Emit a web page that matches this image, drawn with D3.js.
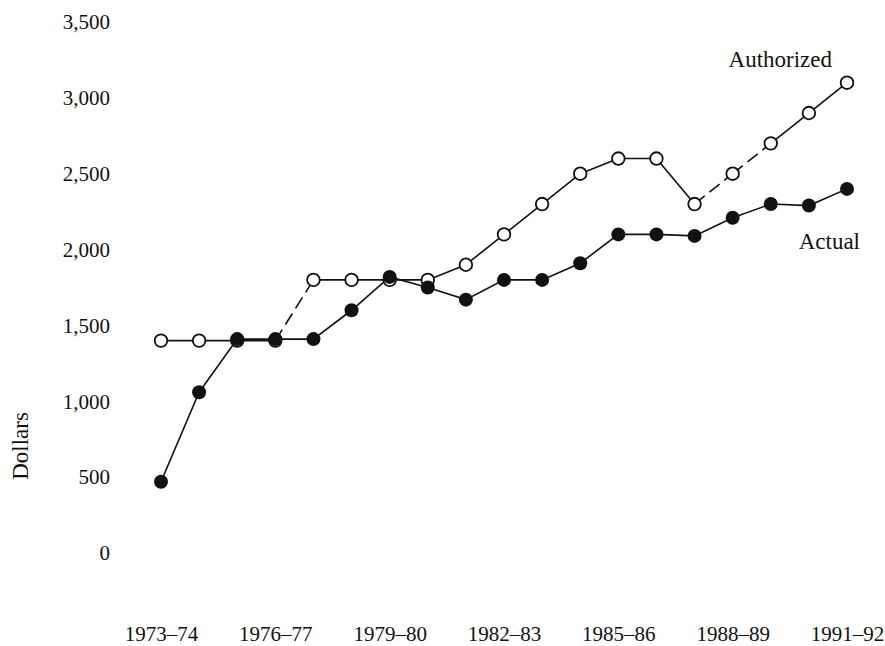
<!DOCTYPE html>
<meta charset="utf-8">
<style>
body { margin: 0; background: #fff; }
svg text { font-family: "Liberation Serif", "Times New Roman", serif; fill: #111; }
.axis text { font-size: 21px; }
.label { font-size: 23px; }
.line { fill: none; stroke: #111; stroke-width: 1.6px; }
</style>
<body>
<svg width="885" height="646"></svg>
<script src="https://d3js.org/d3.v7.min.js"></script>
<script>

var years = ["1973–74", "1974–75", "1975–76", "1976–77", "1977–78", "1978–79", "1979–80",
  "1980–81", "1981–82", "1982–83", "1983–84", "1984–85", "1985–86", "1986–87", "1987–88",
  "1988–89", "1989–90", "1990–91", "1991–92"];

var authorized = [1400, 1400, 1400, 1400, 1800, 1800, 1800, 1800, 1900, 2100,
  2300, 2500, 2600, 2600, 2300, 2500, 2700, 2900, 3100];

var actual = [470, 1060, 1410, 1410, 1410, 1600, 1820, 1750, 1670, 1800,
  1800, 1910, 2100, 2100, 2090, 2210, 2300, 2290, 2400];

var yTicks = [0, 500, 1000, 1500, 2000, 2500, 3000, 3500];
var xTicks = ["1973–74", "1976–77", "1979–80", "1982–83", "1985–86", "1988–89", "1991–92"];

// segments of the authorized line that are drawn dashed (index of the start point)
var dashedAuth = [3, 14, 15];

var svg = d3.select("svg");

var x = d3.scalePoint()
    .domain(years)
    .range([161, 847]);

var y = d3.scaleLinear()
    .domain([0, 3500])
    .range([553, 22]);

var yAxis = svg.append("g")
    .attr("class", "axis")
    .attr("transform", "translate(110,0)")
    .call(d3.axisLeft(y).tickValues(yTicks).tickSize(0).tickPadding(0)
      .tickFormat(d3.format(",")));

var xAxis = svg.append("g")
    .attr("class", "axis")
    .attr("transform", "translate(0,620)")
    .call(d3.axisBottom(x).tickValues(xTicks).tickSize(0).tickPadding(6));

svg.selectAll(".axis .domain").remove();
svg.selectAll(".axis text").attr("font-family", null).attr("font-size", null);

svg.append("text")
    .attr("class", "label")
    .attr("transform", "translate(28,446) rotate(-90)")
    .attr("text-anchor", "middle")
    .text("Dollars");

var line = d3.line()
    .x(function(d) { return x(d.year); })
    .y(function(d) { return y(d.value); });

function points(values) {
  return values.map(function(v, i) { return { year: years[i], value: v }; });
}

var authPts = points(authorized),
    actPts = points(actual);

svg.selectAll(".auth-seg")
  .data(d3.pairs(authPts))
  .enter().append("path")
    .attr("class", "line auth-seg")
    .attr("d", function(d) { return line(d); })
    .attr("stroke-dasharray", function(d, i) { return dashedAuth.indexOf(i) >= 0 ? "13,6" : null; });

svg.append("path")
    .datum(actPts)
    .attr("class", "line")
    .attr("d", line);

svg.selectAll(".auth-dot")
  .data(authPts)
  .enter().append("circle")
    .attr("class", "auth-dot")
    .attr("cx", function(d) { return x(d.year); })
    .attr("cy", function(d) { return y(d.value); })
    .attr("r", 6.3)
    .attr("fill", "#fff")
    .attr("stroke", "#111")
    .attr("stroke-width", 1.8);

svg.selectAll(".act-dot")
  .data(actPts)
  .enter().append("circle")
    .attr("class", "act-dot")
    .attr("cx", function(d) { return x(d.year); })
    .attr("cy", function(d) { return y(d.value); })
    .attr("r", 7)
    .attr("fill", "#111");

svg.append("text")
    .attr("class", "label")
    .attr("x", 832)
    .attr("y", 67)
    .attr("text-anchor", "end")
    .text("Authorized");

svg.append("text")
    .attr("class", "label")
    .attr("x", 860)
    .attr("y", 249)
    .attr("text-anchor", "end")
    .text("Actual");

</script>
</body>
